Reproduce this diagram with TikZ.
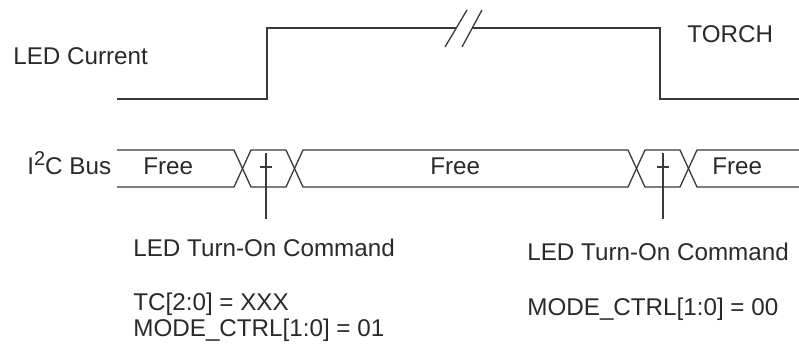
\documentclass[tikz,border=0pt]{standalone}
\usepackage{fontspec}
\setmainfont{Liberation Sans}
\definecolor{txt}{HTML}{2A2A2A}
\definecolor{ln}{HTML}{3A3A3A}
\newcommand{\supertwo}{\raisebox{4.6pt}{\fontsize{10}{10}\selectfont 2}}
\begin{document}
\begin{tikzpicture}[x=0.5pt,y=-0.5pt,
  lbl/.style={anchor=base west,inner sep=0pt,font=\fontsize{12.1}{14}\selectfont,text=txt},
  wave/.style={line width=1pt,draw=ln},
  bus/.style={line width=0.65pt,draw=ln},
  ]
\useasboundingbox (0,0) rectangle (799,347);
\fill[white] (0,0) rectangle (799,347);
% LED current waveform
\draw[wave] (117,99) -- (267,99) -- (267,28) -- (456,28);
\draw[wave] (472,28) -- (660,28) -- (660,99) -- (799,99);
\draw[bus] (445,47) -- (467,10);
\draw[bus] (462,47) -- (482,10);
% I2C bus
\draw[bus] (117,150) -- (234,150) -- (251,187) -- (286,187) -- (303,150) -- (628,150) -- (645,187) -- (680,187) -- (697,150) -- (799,150);
\draw[bus] (117,187) -- (234,187) -- (251,150) -- (286,150) -- (303,187) -- (628,187) -- (645,150) -- (680,150) -- (697,187) -- (799,187);
% markers
\coordinate (m1t) at (266,153);
\coordinate (m1b) at (266,219);
\coordinate (m1l) at (260,167);
\coordinate (m1r) at (272,167);
\coordinate (m2t) at (663,153);
\coordinate (m2b) at (663,219);
\coordinate (m2l) at (657,167);
\coordinate (m2r) at (669,167);
\draw[bus] (m1t) -- (m1b);
\draw[bus] (m1l) -- (m1r);
\draw[bus] (m2t) -- (m2b);
\draw[bus] (m2l) -- (m2r);
% labels
\node[lbl] (ledc) at (13,65) {LED Current};
\node[lbl] (torch) at (687,43) {TORCH};
\node[lbl] (i2c) at (27,175) {I\supertwo C Bus};
\node[lbl] (free1) at (143,175) {Free};
\node[lbl] (free2) at (430,175) {Free};
\node[lbl] (free3) at (712,175) {Free};
\node[lbl] (cmd1) at (133,257) {LED Turn-On Command};
\node[lbl] (tc1) at (133,311) {TC[2:0] = XXX};
\node[lbl] (mode1) at (133,337) {MODE\_CTRL[1:0] = 01};
\node[lbl] (cmd2) at (527,261) {LED Turn-On Command};
\node[lbl] (mode2) at (527,316) {MODE\_CTRL[1:0] = 00};
\end{tikzpicture}
\end{document}
